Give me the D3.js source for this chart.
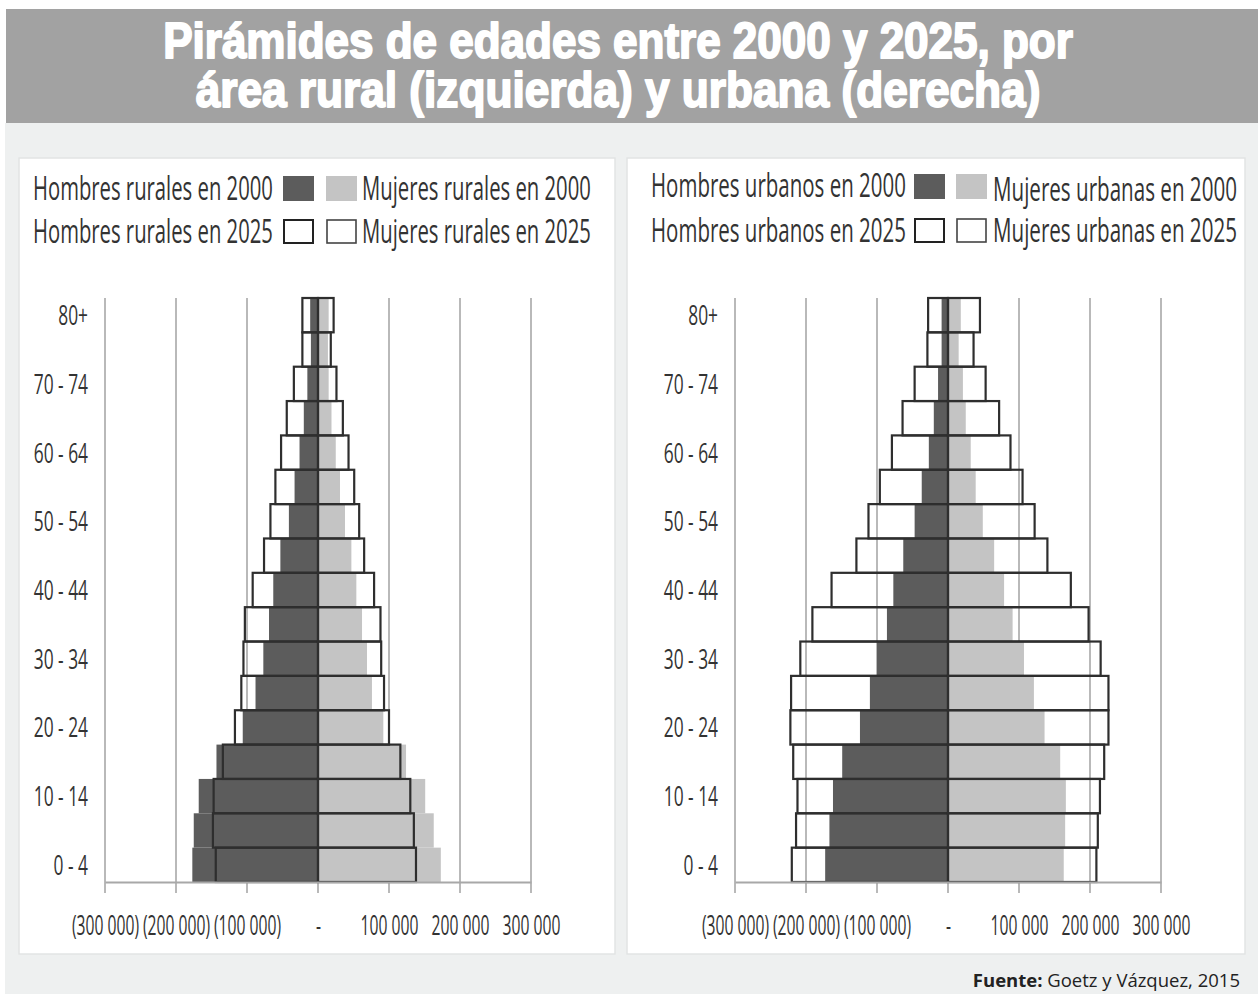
<!DOCTYPE html>
<html><head><meta charset="utf-8">
<script src="https://cdn.jsdelivr.net/npm/d3@7"></script>
<style>body{margin:0;background:#fff} svg{display:block}</style>
</head><body>
<svg id="c" width="1258" height="994"></svg>
<script>
// ---------- DATA ----------
const ageGroups = ["0 - 4","5 - 9","10 - 14","15 - 19","20 - 24","25 - 29","30 - 34","35 - 39","40 - 44","45 - 49","50 - 54","55 - 59","60 - 64","65 - 69","70 - 74","75 - 79","80+"];
const shownAgeLabels = ["0 - 4","10 - 14","20 - 24","30 - 34","40 - 44","50 - 54","60 - 64","70 - 74","80+"];

const ruralMen2000   = [177000,175000,168000,143000,106000,88000,77000,69000,63000,53000,41000,33000,26000,20000,15000,10000,11000];
const ruralWomen2000 = [173000,163000,151000,124000,92000,76000,69000,62000,54000,47000,38000,31000,25000,19000,15000,14000,15000];
const ruralMen2025   = [144000,148000,147000,134000,117000,108000,105000,103000,92000,76000,67000,60000,52000,44000,34000,22000,22000];
const ruralWomen2025 = [138000,135000,130000,116000,100000,93000,89000,88000,79000,65000,58000,51000,43000,35000,26000,18000,22000];

const urbanMen2000   = [173000,167000,162000,149000,124000,110000,100000,86000,77000,63000,47000,37000,27000,20000,14000,9000,9000];
const urbanWomen2000 = [163000,165000,166000,158000,136000,121000,107000,91000,79000,65000,49000,39000,32000,25000,21000,15000,18000];
const urbanMen2025   = [220000,214000,212000,218000,222000,221000,208000,191000,164000,129000,112000,96000,79000,64000,47000,29000,28000];
const urbanWomen2025 = [209000,211000,214000,220000,226000,226000,215000,198000,173000,140000,122000,105000,88000,72000,53000,36000,45000];

const tickValues = [-300000,-200000,-100000,0,100000,200000,300000];
const tickLabels = ["(300 000)","(200 000)","(100 000)","-","100 000","200 000","300 000"];

const titleLines = ["Pirámides de edades entre 2000 y 2025, por","área rural (izquierda) y urbana (derecha)"];
const ruralLegend = ["Hombres rurales en 2000","Mujeres rurales en 2000","Hombres rurales en 2025","Mujeres rurales en 2025"];
const urbanLegend = ["Hombres urbanos en 2000","Mujeres urbanas en 2000","Hombres urbanos en 2025","Mujeres urbanas en 2025"];
const sourceBold = "Fuente:";
const sourceText = " Goetz y Vázquez, 2015";

// ---------- STYLE ----------
const C = {dark:"#5c5c5c", light:"#c4c4c4", outline:"#2e2e2e", grid:"#a8a8a8", text:"#333", band:"#a2a2a2", page:"#eef0f0"};
const LF = "'Open Sans', 'Liberation Sans', sans-serif";

const svg = d3.select("#c");

svg.append("rect").attr("x",5).attr("y",123).attr("width",1253).attr("height",871).attr("fill",C.page);
svg.append("rect").attr("x",6).attr("y",9).attr("width",1252).attr("height",114).attr("fill",C.band);

// Draw a horizontally condensed text: anchored at (x,y), scaled to target width.
function condText(parent, x, y, str, opts){
  const t = parent.append("text").attr("x",0).attr("y",0)
    .attr("text-anchor",opts.anchor||"start")
    .attr("font-family",opts.family||LF).attr("font-size",opts.size)
    .attr("font-weight",opts.weight||"normal")
    .attr("fill",opts.fill||C.text).text(str);
  if(opts.stroke) t.attr("stroke",opts.stroke).attr("stroke-width",opts.strokeWidth).attr("stroke-linejoin","round");
  const w = t.node().getComputedTextLength();
  const f = opts.width ? opts.width/w : opts.factor;
  t.attr("transform",`translate(${x},${y}) scale(${f},1)`);
  return t;
}

// title
const titleY = [58,107], titleW = [910,845];
titleLines.forEach((t,i)=>{
  condText(svg, 618, titleY[i], t, {anchor:"middle", family:"'Liberation Sans', Arial, sans-serif",
    weight:"bold", size:50, fill:"#fff", stroke:"#fff", strokeWidth:2, width:titleW[i]});
});

// panels
[[19,158,596,796],[627,158,618,796]].forEach(p=>{
  svg.append("rect").attr("x",p[0]).attr("y",p[1]).attr("width",p[2]).attr("height",p[3])
    .attr("fill","#fff").attr("stroke","#e2e4e4").attr("stroke-width",1.5);
});

function drawPyramid(cfg){
  const g = svg.append("g");
  const x = d3.scaleLinear().domain([-300000,300000]).range([cfg.x0, cfg.x1]);
  const y = d3.scaleBand().domain(ageGroups).range([882,298]).padding(0);

  // gridlines
  g.selectAll("line.grid").data(tickValues).join("line").attr("class","grid")
    .attr("x1",d=>x(d)).attr("x2",d=>x(d)).attr("y1",298).attr("y2",893)
    .attr("stroke",C.grid).attr("stroke-width",1.6);

  // 2000 filled bars
  g.selectAll("rect.m00").data(ageGroups).join("rect").attr("class","m00")
    .attr("x",(d,i)=>x(-cfg.m00[i])).attr("y",d=>y(d))
    .attr("width",(d,i)=>x(0)-x(-cfg.m00[i])).attr("height",y.bandwidth())
    .attr("fill",C.dark);
  g.selectAll("rect.w00").data(ageGroups).join("rect").attr("class","w00")
    .attr("x",x(0)).attr("y",d=>y(d))
    .attr("width",(d,i)=>x(cfg.w00[i])-x(0)).attr("height",y.bandwidth())
    .attr("fill",C.light);

  // 2025 outlined bars
  g.selectAll("rect.m25").data(ageGroups).join("rect").attr("class","m25")
    .attr("x",(d,i)=>x(-cfg.m25[i])).attr("y",d=>y(d))
    .attr("width",(d,i)=>x(0)-x(-cfg.m25[i])).attr("height",y.bandwidth())
    .attr("fill","none").attr("stroke",C.outline).attr("stroke-width",2.2);
  g.selectAll("rect.w25").data(ageGroups).join("rect").attr("class","w25")
    .attr("x",x(0)).attr("y",d=>y(d))
    .attr("width",(d,i)=>x(cfg.w25[i])-x(0)).attr("height",y.bandwidth())
    .attr("fill","none").attr("stroke",C.outline).attr("stroke-width",2.2);

  // x axis (domain line via d3 axis, labels condensed)
  const ax = g.append("g").attr("transform","translate(0,882)")
    .call(d3.axisBottom(x).tickValues(tickValues).tickSize(0).tickPadding(0).tickFormat(""));
  ax.select(".domain").attr("stroke",C.grid).attr("stroke-width",2.2);
  ax.selectAll(".tick").each(function(d,i){
    d3.select(this).select("text").remove();
    condText(d3.select(this), 0, 53, tickLabels[i], {anchor:"middle", size:27, factor:0.58});
  });

  // y labels
  shownAgeLabels.forEach(lab=>{
    condText(g, cfg.labelX, y(lab)+y.bandwidth()/2+10, lab, {anchor:"end", size:28, factor:0.62});
  });

  // legend
  const L = cfg.legend;
  const rows = [{y:L.y1, s:L.sy1},{y:L.y2, s:L.sy2}];
  rows.forEach((r,ri)=>{
    condText(g, L.tx1, r.y, cfg.labels[ri*2], {size:33, width:L.w1});
    condText(g, L.tx2, r.y+(ri===0?L.off:0), cfg.labels[ri*2+1], {size:33, width:L.w2});
    if(ri===0){
      g.append("rect").attr("x",L.sx1).attr("y",r.s).attr("width",31).attr("height",25).attr("fill",C.dark);
      g.append("rect").attr("x",L.sx2).attr("y",r.s).attr("width",31).attr("height",25).attr("fill",C.light);
    } else {
      g.append("rect").attr("x",L.sx1+1).attr("y",r.s+1).attr("width",29).attr("height",23).attr("fill","#fff").attr("stroke","#222").attr("stroke-width",2);
      g.append("rect").attr("x",L.sx2+1).attr("y",r.s+1).attr("width",29).attr("height",23).attr("fill","#fff").attr("stroke","#444").attr("stroke-width",1.6);
    }
  });
}

drawPyramid({x0:105, x1:531, labelX:88,
  m00:ruralMen2000, w00:ruralWomen2000, m25:ruralMen2025, w25:ruralWomen2025,
  labels:ruralLegend,
  legend:{tx1:33, w1:240, tx2:362, w2:229, y1:200, y2:243, sy1:176, sy2:219, sx1:283, sx2:326, off:0}});

drawPyramid({x0:735, x1:1161, labelX:718,
  m00:urbanMen2000, w00:urbanWomen2000, m25:urbanMen2025, w25:urbanWomen2025,
  labels:urbanLegend,
  legend:{tx1:651, w1:255, tx2:993, w2:244, y1:197, y2:242, sy1:174, sy2:218, sx1:914, sx2:956, off:4}});

// source
const src = svg.append("text").attr("x",1240).attr("y",987).attr("text-anchor","end")
  .attr("font-family",LF).attr("font-size",18.5).attr("fill","#222");
src.append("tspan").attr("font-weight","bold").text(sourceBold);
src.append("tspan").text(sourceText);
</script>
</body></html>
